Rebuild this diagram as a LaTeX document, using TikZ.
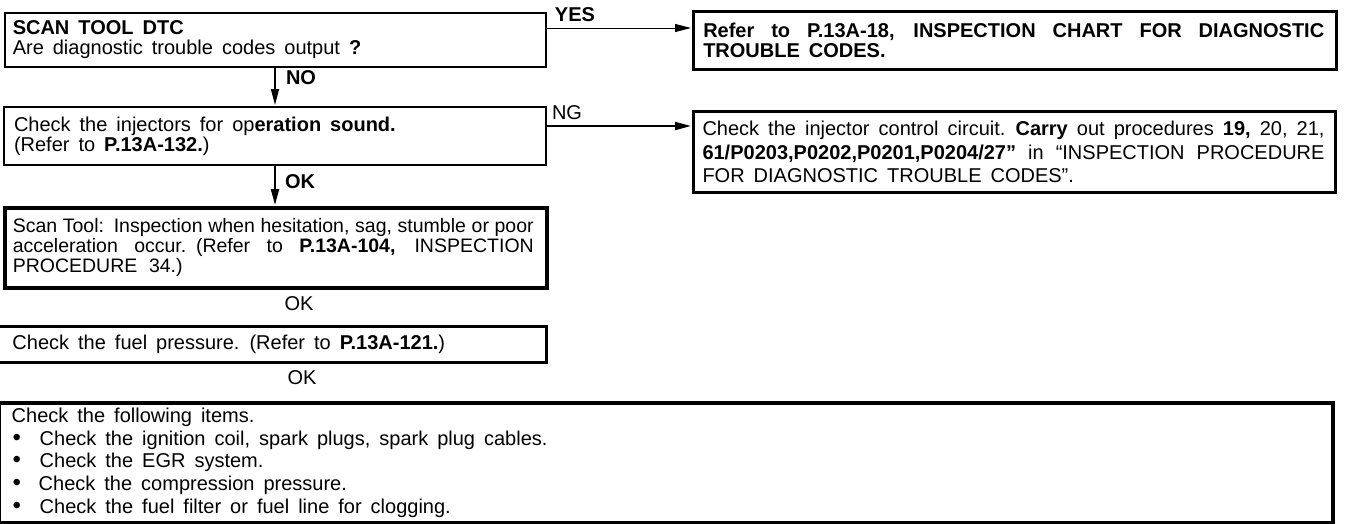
\documentclass[tikz,border=0pt]{standalone}
\usepackage{fontspec}
\setmainfont{Liberation Sans}
\usetikzlibrary{arrows.meta}
\newcommand\fs{\fontsize{20}{20}\selectfont}
\newcommand\fsn{\fontsize{19.5}{20}\selectfont}
\newcommand\ws{\spaceskip=0.45em plus 0.8em minus 0.2em\relax}
\newcommand\wsn{\spaceskip=0.3em plus 0.8em minus 0.05em\relax}
\newcommand\jl[2]{\makebox[#1][s]{#2}}
\newcommand\bul[1]{\hspace*{1pt}\makebox[#1][l]{{\fontsize{24}{20}\selectfont •}}}
\begin{document}
\begin{tikzpicture}[x=1pt,y=-1pt,
  box/.style={draw, anchor=north west, inner ysep=0pt, align=left, font=\fs, line width=3pt},
  arr/.style={-{Triangle[length=16pt,width=8pt]}, shorten >=1pt},
  lbl/.style={font=\fs, inner sep=0pt},
  blbl/.style={font=\fs\bfseries, inner sep=0pt}]
\useasboundingbox (0,0) rectangle (1355,523);

% boxes
\node[box, line width=1.5pt, minimum width=541pt, minimum height=54pt, text width=525pt, inner xsep=8pt] (b1) at (4,12)
  {\ws\textbf{SCAN TOOL DTC}\\Are diagnostic trouble codes output \textbf{?}};

\node[box, line width=2.5pt, minimum width=643pt, minimum height=58pt, text width=623pt, inner xsep=10pt] (b2) at (692,10)
  {\bfseries\ws\jl{621pt}{Refer to P.13A-18, INSPECTION CHART FOR DIAGNOSTIC}\\TROUBLE CODES.};

\node[box, line width=2pt, minimum width=542pt, minimum height=58pt, text width=522pt, inner xsep=10pt] (b3) at (3,106)
  {\ws Check the injectors for op\textbf{eration sound.}\\(Refer to \textbf{P.13A-132.})};

\node[box, minimum width=642pt, minimum height=81pt, text width=624pt, inner xsep=9pt,
      font={\fs\baselineskip=23.5pt\relax}] (b4) at (692,110)
  {\ws\jl{622pt}{Check the injector control circuit. \textbf{Carry} out procedures \textbf{19,} 20, 21,}\\
   \jl{622pt}{\textbf{61/P0203,P0202,P0201,P0204/27”} in “INSPECTION PROCEDURE}\\
   FOR DIAGNOSTIC TROUBLE CODES”.};

\node[box, line width=3.5pt, minimum width=542pt, minimum height=80pt, text width=526pt, inner xsep=8pt,
      font=\fsn] (b5) at (3,206)
  {\wsn\jl{521pt}{Scan Tool: Inspection when hesitation, sag, stumble or poor}\\
   \jl{521pt}{acceleration occur. (Refer to \textbf{P.13A-104,} INSPECTION}\\
   PROCEDURE\ \ 34.)};

\node[box, minimum width=548pt, minimum height=36pt, text width=520pt, inner xsep=14pt] (b6) at (-3,325)
  {\ws Check the fuel pressure. (Refer to \textbf{P.13A-121.})};

\node[box, line width=3.5pt, minimum width=1334pt, minimum height=120pt, text width=1308pt, inner xsep=13pt,
      font={\fs\baselineskip=22.75pt\relax}] (b7) at (-3,401)
  {\ws Check the following items.\\
   \bul{27pt}Check the ignition coil, spark plugs, spark plug cables.\\
   \bul{27pt}Check the EGR system.\\
   \bul{26pt}Check the compression pressure.\\
   \bul{27pt}Check the fuel filter or fuel line for clogging.};

% labels
\node[blbl] (yes) at (575,15) {YES};
\node[lbl] (ng) at (567,113) {NG};
\node[blbl] (no) at (301,78) {NO};
\node[blbl] (ok1) at (300,182) {OK};
\node[lbl] (ok2) at (299,304) {OK};
\node[lbl] (ok3) at (302,378) {OK};

% connectors
\coordinate (vx) at (275,0);
\draw[arr, line width=1pt] ([yshift=-16pt]b1.north east) -- ([yshift=-16pt]b1.north east -| b2.west);
\draw[arr, line width=2pt] ([yshift=-20pt]b3.north east) -- ([yshift=-20pt]b3.north east -| b4.west);
\draw[arr, line width=1.5pt] (b1.south -| vx) -- (b3.north -| vx);
\draw[arr, line width=2pt] (b3.south -| vx) -- (b5.north -| vx);
\end{tikzpicture}
\end{document}
